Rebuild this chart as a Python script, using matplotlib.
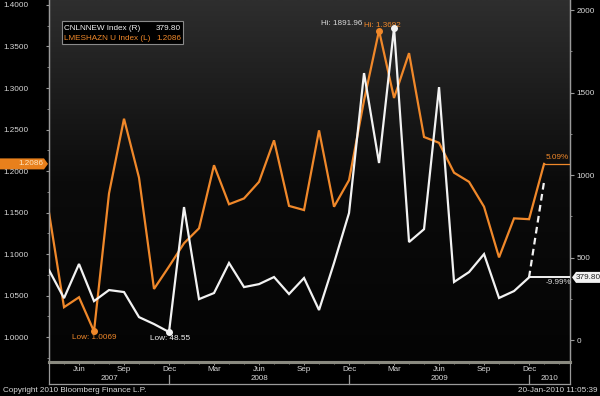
import matplotlib
matplotlib.use('Agg')
import matplotlib.pyplot as plt
import numpy as np
from matplotlib.patches import Rectangle, Polygon
from matplotlib.lines import Line2D
from matplotlib.colors import LinearSegmentedColormap
import matplotlib.transforms as mtransforms

plt.rcParams['font.family'] = ['Liberation Sans', 'DejaVu Sans']

# ---------------- data ----------------
# monthly points, index 0 = Apr 2007 ... 33 = Jan 2010
lme_values = [1.150, 1.036, 1.048, 1.0069, 1.173, 1.263, 1.192, 1.058, 1.085, 1.113,
              1.131, 1.207, 1.160, 1.167, 1.187, 1.237, 1.158, 1.153, 1.249, 1.157,
              1.189, 1.285, 1.3692, 1.288, 1.342, 1.241, 1.234, 1.198, 1.187, 1.157,
              1.096, 1.143, 1.142, 1.2086]
cnl_values = [424, 254, 461, 236, 303, 291, 139, 97, 48.55, 806,
              248, 285, 467, 321, 339, 382, 279, 376, 182, 467,
              770, 1618, 1073, 1891.96, 594, 672, 1533, 352, 412, 521,
              255, 297, 379.80]
cnl_projection = [379.80, 960]
month_tick_idx = [2, 5, 8, 11, 14, 17, 20, 23, 26, 29, 32]
month_tick_labels = ['Jun', 'Sep', 'Dec', 'Mar', 'Jun', 'Sep', 'Dec', 'Mar', 'Jun', 'Sep', 'Dec']
year_labels = ['2007', '2008', '2009', '2010']
year_bounds = [0, 8, 20, 32, 34.73]
left_ticks = [1.0, 1.05, 1.1, 1.15, 1.2, 1.25, 1.3, 1.35, 1.4]
right_ticks = [0, 500, 1000, 1500, 2000]
lme_name = 'LMESHAZN U Index (L)'
cnl_name = 'CNLNNEW Index (R)'
lme_last = '1.2086'
cnl_last = '379.80'
lme_chg = '5.09%'
cnl_chg = '-9.99%'

ORANGE = '#f0882a'
WHITE = '#f2f2f2'
GRAY = '#9a9a9a'
TXT = '#d8d8d8'

W, H = 600, 396
fig = plt.figure(figsize=(6, 3.96), dpi=100, facecolor='black')


def fx(px):
    return px / W


def fy(py):
    return 1 - py / H


rect = [fx(49), fy(362), fx(570) - fx(49), fy(0) - fy(362)]

# gradient background
bg = fig.add_axes(rect, zorder=0)
cmap = LinearSegmentedColormap.from_list('g', ['#040404', '#0b0b0b', '#2e2e2e'])
bg.imshow(np.linspace(0, 1, 256).reshape(-1, 1), aspect='auto', cmap=cmap,
          origin='lower', extent=[0, 1, 0, 1])
bg.axis('off')

ax = fig.add_axes(rect, zorder=1)
ax.set_facecolor('none')
ax2 = ax.twinx()
ax2.set_facecolor('none')

x_lme = np.arange(len(lme_values))
x_cnl = np.arange(len(cnl_values))

ax.set_xlim(0, 34.73)
ax.set_ylim(0.970, 1.406)
ax2.set_ylim(-133, 2061)

ax.plot(x_lme, lme_values, color=ORANGE, lw=1.6, zorder=3, solid_joinstyle='miter')
ax2.plot(x_cnl, cnl_values, color=WHITE, lw=1.6, zorder=3, solid_joinstyle='miter')
ax2.plot([x_cnl[-1], x_cnl[-1] + 1], cnl_projection, color=WHITE, lw=1.6,
         ls=(0, (3, 2)), zorder=3)

# last value lines
ax.plot([x_lme[-1], 34.73], [lme_values[-1]] * 2, color=ORANGE, lw=0.9, zorder=3)
ax2.plot([x_cnl[-1], 34.73], [cnl_values[-1]] * 2, color=WHITE, lw=1.4, zorder=3)

# hi / low markers
i_lo_l = int(np.argmin(lme_values)); i_hi_l = int(np.argmax(lme_values))
i_lo_c = int(np.argmin(cnl_values)); i_hi_c = int(np.argmax(cnl_values))
ax.plot([i_lo_l, i_hi_l], [lme_values[i_lo_l], lme_values[i_hi_l]], 'o', color=ORANGE, ms=4, zorder=4)
ax2.plot([i_lo_c, i_hi_c], [cnl_values[i_lo_c], cnl_values[i_hi_c]], 'o', color=WHITE, ms=4, zorder=4)

fs = 5.9
ax.annotate(f'Low: {lme_values[i_lo_l]:.4f}', (i_lo_l, lme_values[i_lo_l]), xytext=(0, -2),
            textcoords='offset points', ha='center', va='top', color=ORANGE, fontsize=fs, zorder=5)
ax2.annotate(f'Low: {cnl_values[i_lo_c]:.2f}', (i_lo_c, cnl_values[i_lo_c]), xytext=(1, -2),
             textcoords='offset points', ha='center', va='top', color=WHITE, fontsize=fs, zorder=5)
ax2.annotate(f'Hi: {cnl_values[i_hi_c]:.2f}', (i_hi_c, cnl_values[i_hi_c]), xytext=(-23, 3),
             textcoords='offset points', ha='right', va='center', color=TXT, fontsize=fs, zorder=5)
ax.annotate(f'Hi: {lme_values[i_hi_l]:.4f}', (i_hi_l, lme_values[i_hi_l]), xytext=(-11, 3.5),
            textcoords='offset points', ha='left', va='center', color=ORANGE, fontsize=fs, zorder=5)

# change labels
ax.annotate(lme_chg, (x_lme[-1], lme_values[-1]), xytext=(1, 2), textcoords='offset points',
            ha='left', va='bottom', color=ORANGE, fontsize=fs, zorder=5)
ax2.annotate(cnl_chg, (x_cnl[-1] + 1, cnl_values[-1]), xytext=(1, -1.5), textcoords='offset points',
             ha='left', va='top', color=TXT, fontsize=fs, zorder=5)

# axes styling
for a in (ax, ax2):
    a.spines['top'].set_visible(False)
    a.spines['left'].set_color(GRAY)
    a.spines['right'].set_color(GRAY)
    a.spines['bottom'].set_color('#8a8a80')
    a.spines['bottom'].set_linewidth(2.2)
    a.spines['left'].set_linewidth(0.9)
    a.spines['right'].set_linewidth(0.9)

ax.set_yticks(left_ticks)
ax.set_yticklabels([f'{v:.4f}' for v in left_ticks])
ax.set_yticks([v + 0.025 for v in left_ticks[:-1]] + [0.975], minor=True)
ax.tick_params(axis='y', which='major', colors=GRAY, labelcolor=TXT, labelsize=5.9,
               length=2.2, width=0.8, pad=30.9)
ax.tick_params(axis='y', which='minor', colors=GRAY, length=1.5, width=0.6)
for lbl in ax.get_yticklabels():
    lbl.set_ha('left')

ax2.set_yticks(right_ticks)
ax2.set_yticklabels([str(v) for v in right_ticks])
ax2.set_yticks([250, 750, 1250, 1750], minor=True)
ax2.tick_params(axis='y', which='major', colors=GRAY, labelcolor=TXT, labelsize=5.9,
                length=3, width=0.8, pad=1.5)
ax2.tick_params(axis='y', which='minor', colors=GRAY, length=1.5, width=0.6)

ax.set_xticks(month_tick_idx)
ax.set_xticklabels(month_tick_labels)
ax.set_xticks(np.arange(0, 35), minor=True)
ax.tick_params(axis='x', which='major', colors=GRAY, labelcolor=TXT, labelsize=5.8,
               length=2, width=0.7, pad=0.8)
ax.tick_params(axis='x', which='minor', colors=GRAY, length=1.5, width=0.6)

# year box
bt = mtransforms.blended_transform_factory(ax.transData, fig.transFigure)
fig.add_artist(Line2D([fx(49), fx(570)], [fy(384), fy(384)], transform=fig.transFigure,
                      color=GRAY, lw=0.9))
for xp in (49, 570):
    fig.add_artist(Line2D([fx(xp), fx(xp)], [fy(363), fy(384)], transform=fig.transFigure,
                          color=GRAY, lw=0.9))
for b in year_bounds[1:-1]:
    fig.add_artist(Line2D([b, b], [fy(375), fy(384)], transform=bt, color=GRAY, lw=0.9))
for k, yl in enumerate(year_labels):
    c = (year_bounds[k] + year_bounds[k + 1]) / 2
    fig.text(c, fy(379), yl, transform=bt, ha='center', va='center', color=TXT, fontsize=5.8)

# legend box
fig.add_artist(Rectangle((fx(62), fy(44)), fx(183) - fx(62), fy(21) - fy(44),
                         transform=fig.transFigure, facecolor='black', edgecolor='#8a8a8a', lw=0.8))
fig.text(fx(64), fy(28), cnl_name, color=WHITE, fontsize=5.9, va='center', ha='left')
fig.text(fx(181), fy(28), cnl_last, color=WHITE, fontsize=5.9, va='center', ha='right')
fig.text(fx(64), fy(38), lme_name, color=ORANGE, fontsize=5.9, va='center', ha='left')
fig.text(fx(181), fy(38), lme_last, color=ORANGE, fontsize=5.9, va='center', ha='right')

# last value tags on axes
inv = fig.transFigure.inverted()
yl_fig = inv.transform(ax.transData.transform((0, lme_values[-1])))[1]
yc_fig = inv.transform(ax2.transData.transform((0, cnl_values[-1])))[1]
hh = 5.5 / H
fig.add_artist(Polygon([[fx(0), yl_fig - hh], [fx(44), yl_fig - hh], [fx(48), yl_fig],
                        [fx(44), yl_fig + hh], [fx(0), yl_fig + hh]], closed=True,
                       transform=fig.transFigure, facecolor='#e8801c', edgecolor='none'))
fig.text(fx(43), yl_fig, lme_last, color='#ffe6c0', fontsize=5.9, ha='right', va='center')
fig.add_artist(Polygon([[fx(572), yc_fig], [fx(576), yc_fig - hh], [fx(600), yc_fig - hh],
                        [fx(600), yc_fig + hh], [fx(576), yc_fig + hh]], closed=True,
                       transform=fig.transFigure, facecolor='#f2f2f2', edgecolor='none'))
fig.text(fx(588), yc_fig, cnl_last, color='#202020', fontsize=5.9, ha='center', va='center')

# footer
fig.text(fx(3), fy(390), 'Copyright 2010 Bloomberg Finance L.P.', color=TXT, fontsize=5.9,
         ha='left', va='center')
fig.text(fx(598), fy(390), '20-Jan-2010 11:05:39', color=TXT, fontsize=5.9,
         ha='right', va='center')

fig.savefig('out.png', dpi=100, facecolor='black')
